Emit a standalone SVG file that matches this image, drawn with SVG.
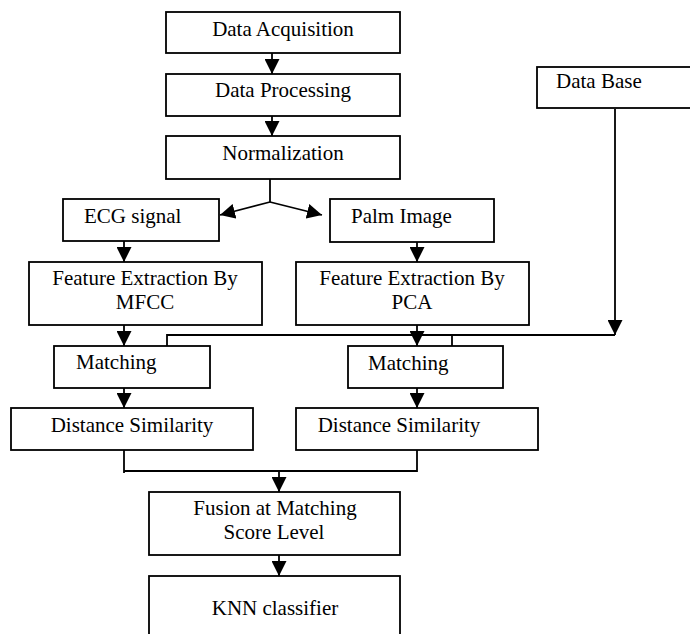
<svg xmlns="http://www.w3.org/2000/svg" width="690" height="634" viewBox="0 0 690 634">
<style>
.box{fill:#fff;stroke:#000;stroke-width:1.8}
.t{font-family:"Liberation Serif","Times New Roman",serif;font-size:21px;fill:#000}
.c{text-anchor:middle}
.ln{fill:none;stroke:#000;stroke-width:1.8}
.ar{fill:none;stroke:#000;stroke-width:1.8;marker-end:url(#ah)}
</style>
<defs>
<marker id="ah" markerWidth="15" markerHeight="15" viewBox="0 0 15 15" refX="15" refY="7.5" orient="auto" markerUnits="userSpaceOnUse">
<path d="M0,0 L15,7.5 L0,15 Z" fill="#000"/>
</marker>
</defs>
<rect width="690" height="634" fill="#fff"/>
<g id="connectors">
<path class="ar" d="M272,53 V74"/>
<path class="ar" d="M272,116 V136"/>
<path class="ln" d="M270,179 V202"/>
<path class="ar" d="M270,202 L220,215"/>
<path class="ar" d="M270,202 L322,215"/>
<path class="ar" d="M124,241 V262"/>
<path class="ar" d="M417,242 V262"/>
<path class="ar" d="M124,325 V346"/>
<path class="ar" d="M417,325 V346"/>
<path class="ln" d="M167,346 V335 H615"/>
<path class="ar" d="M615,109 V335"/>
<path class="ln" d="M452,335 V346"/>
<path class="ar" d="M124,388 V408"/>
<path class="ar" d="M417,388 V408"/>
<path class="ln" d="M124,450 V473"/>
<path class="ln" d="M124,471 H417 V450"/>
<path class="ar" d="M279,471 V492"/>
<path class="ar" d="M279,555 V576"/>
</g>
<g id="data-acquisition"><rect class="box" x="166" y="12" width="234" height="41"/><text class="t c" x="283" y="36">Data Acquisition</text></g>
<g id="data-processing"><rect class="box" x="166" y="74" width="234" height="42"/><text class="t c" x="283" y="97">Data Processing</text></g>
<g id="normalization"><rect class="box" x="166" y="136" width="234" height="43"/><text class="t c" x="283" y="160">Normalization</text></g>
<g id="data-base"><rect class="box" x="537" y="67" width="170" height="41"/><text class="t" x="556" y="88">Data Base</text></g>
<g id="ecg-signal"><rect class="box" x="63" y="199" width="156" height="42"/><text class="t" x="84" y="223">ECG signal</text></g>
<g id="palm-image"><rect class="box" x="330" y="199" width="164" height="43"/><text class="t" x="351" y="223">Palm Image</text></g>
<g id="feature-mfcc"><rect class="box" x="29" y="262" width="233" height="63"/><text class="t c" x="145" y="285">Feature Extraction By</text><text class="t c" x="145" y="309">MFCC</text></g>
<g id="feature-pca"><rect class="box" x="296" y="262" width="233" height="63"/><text class="t c" x="412" y="285">Feature Extraction By</text><text class="t c" x="412" y="309">PCA</text></g>
<g id="matching-left"><rect class="box" x="54" y="346" width="156" height="42"/><text class="t" x="76" y="369">Matching</text></g>
<g id="matching-right"><rect class="box" x="348" y="346" width="155" height="42"/><text class="t" x="368" y="370">Matching</text></g>
<g id="distance-left"><rect class="box" x="11" y="408" width="242" height="42"/><text class="t c" x="132" y="432">Distance Similarity</text></g>
<g id="distance-right"><rect class="box" x="296" y="408" width="242" height="42"/><text class="t c" x="399" y="432">Distance Similarity</text></g>
<g id="fusion"><rect class="box" x="149" y="492" width="251" height="63"/><text class="t c" x="275" y="515">Fusion at Matching</text><text class="t c" x="274" y="539">Score Level</text></g>
<g id="knn"><rect class="box" x="149" y="576" width="251" height="80"/><text class="t c" x="275" y="615">KNN classifier</text></g>
</svg>
